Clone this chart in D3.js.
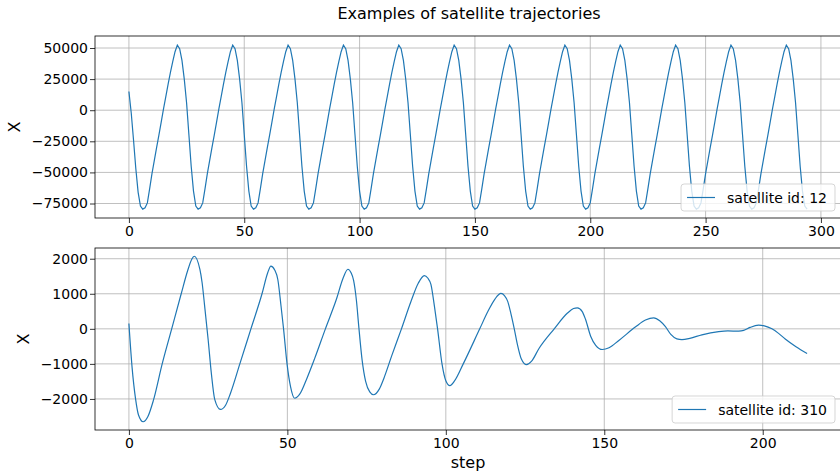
<!DOCTYPE html>
<html>
<head>
<meta charset="utf-8">
<script src="https://cdn.jsdelivr.net/npm/d3@7"></script>
<style>
  body { margin: 0; background: #fff; }
  svg text { font-family: "DejaVu Sans", sans-serif; fill: #000; }
</style>
</head>
<body>
<svg id="chart" width="840" height="475"></svg>
<script>
/* data */
// satellite 12: X value at every step 0..294
var values12 = [
  15000, -2000, -24000, -47000, -66000, -77000, -79500, -78500, -74500, -63000, -51000, -40500, -30000, -20000, -9500, 1000, 11000, 21000, 30500, 39000, 47000,
  52300, 49500, 40000, 25000, 6000, -19500, -45000, -65000, -77000, -79500, -78500, -74500, -63000, -51000, -40500, -30000, -20000, -9500, 1000, 11000, 21000, 30500, 39000, 47000,
  52300, 49500, 40000, 25000, 6000, -19500, -45000, -65000, -77000, -79500, -78500, -74500, -63000, -51000, -40500, -30000, -20000, -9500, 1000, 11000, 21000, 30500, 39000, 47000,
  52300, 49500, 40000, 25000, 6000, -19500, -45000, -65000, -77000, -79500, -78500, -74500, -63000, -51000, -40500, -30000, -20000, -9500, 1000, 11000, 21000, 30500, 39000, 47000,
  52300, 49500, 40000, 25000, 6000, -19500, -45000, -65000, -77000, -79500, -78500, -74500, -63000, -51000, -40500, -30000, -20000, -9500, 1000, 11000, 21000, 30500, 39000, 47000,
  52300, 49500, 40000, 25000, 6000, -19500, -45000, -65000, -77000, -79500, -78500, -74500, -63000, -51000, -40500, -30000, -20000, -9500, 1000, 11000, 21000, 30500, 39000, 47000,
  52300, 49500, 40000, 25000, 6000, -19500, -45000, -65000, -77000, -79500, -78500, -74500, -63000, -51000, -40500, -30000, -20000, -9500, 1000, 11000, 21000, 30500, 39000, 47000,
  52300, 49500, 40000, 25000, 6000, -19500, -45000, -65000, -77000, -79500, -78500, -74500, -63000, -51000, -40500, -30000, -20000, -9500, 1000, 11000, 21000, 30500, 39000, 47000,
  52300, 49500, 40000, 25000, 6000, -19500, -45000, -65000, -77000, -79500, -78500, -74500, -63000, -51000, -40500, -30000, -20000, -9500, 1000, 11000, 21000, 30500, 39000, 47000,
  52300, 49500, 40000, 25000, 6000, -19500, -45000, -65000, -77000, -79500, -78500, -74500, -63000, -51000, -40500, -30000, -20000, -9500, 1000, 11000, 21000, 30500, 39000, 47000,
  52300, 49500, 40000, 25000, 6000, -19500, -45000, -65000, -77000, -79500, -78500, -74500, -63000, -51000, -40500, -30000, -20000, -9500, 1000, 11000, 21000, 30500, 39000, 47000,
  52300, 49500, 40000, 25000, 6000, -19500, -45000, -65000, -77000, -79500, -78500, -74500, -63000, -51000, -40500, -30000, -20000, -9500, 1000, 11000, 21000, 30500, 39000, 47000,
  52300, 49500, 40000, 25000, 6000, -19500, -45000, -65000, -77000, -79500
];

// satellite 310: points picked along the curve (step, X)
var steps310 = [
  0, 1, 2.1, 3, 4.5, 6, 7.7, 10.5, 13.5, 16.5, 18.5, 19.8, 20.6,
  22.4, 23.1, 23.9, 25, 26, 27.1, 28.9,
  30.5, 32, 35, 38.5, 42, 43.8, 44.8,
  46, 47, 48, 48.8, 49.9, 51, 52.3,
  54, 56, 58.6, 62, 65.5, 67.6, 69.1,
  70.1, 70.9, 71.8, 72.5, 73.6, 74.7, 76, 77.2,
  79, 80.5, 83, 86, 89, 91.3, 93.2,
  94.3, 95.3, 96.4, 97.4, 98.8, 100, 101.3,
  102.8, 105.5, 110.7, 113.3, 115.5, 117.4,
  118.5, 119.5, 120.5, 121.6, 122.6, 123.8, 125.5,
  127, 129.4, 134.2, 138.4, 140.3, 141.5,
  143, 144.1, 145.7, 147.3, 149.4,
  151.5, 154.6, 159.9, 163, 165.6,
  167.5, 169.3, 171, 172.9, 174.5,
  177, 180.8, 186.1, 189, 192.4, 194, 196, 198.7, 200.5, 202.9, 205, 207.1, 210.5, 214
];
var values310 = [
  150, -1100, -2000, -2450, -2650, -2500, -2050, -1000, 0, 1000, 1650, 1980, 2070,
  1695, 1314, 648, -305, -1257, -2019, -2300,
  -2180, -1850, -1000, 0, 1000, 1600, 1790,
  1680, 1400, 650, 0, -1000, -1650, -1980,
  -1850, -1450, -850, 0, 850, 1450, 1700,
  1600, 1380, 800, 100, -900, -1500, -1800, -1880,
  -1720, -1400, -750, 0, 780, 1300, 1520,
  1450, 1267, 648, 0, -1000, -1480, -1620,
  -1480, -1000, 0, 500, 850, 1010,
  950, 790, 450, 0, -450, -850, -1020,
  -930, -560, 0, 450, 580, 600,
  500, 267, -210, -470, -590,
  -540, -330, 57, 250, 314,
  230, 60, -160, -286, -305,
  -270, -170, -80, -60, -65, -45, 40, 105, 85, 0, -130, -290, -510, -705
];

var xTicks12 = [0, 50, 100, 150, 200, 250, 300];
var yTicks12 = [-75000, -50000, -25000, 0, 25000, 50000];
var xTicks310 = [0, 50, 100, 150, 200];
var yTicks310 = [-2000, -1000, 0, 1000, 2000];

var svg = d3.select("#chart");
var blue = "#1f77b4";

svg.append("text")
  .attr("x", 469).attr("y", 19)
  .attr("text-anchor", "middle")
  .style("font-size", "16px")
  .text("Examples of satellite trajectories");

var panels = [
  {
    top: 36, bottom: 218, left: 95, right: 841,
    xDomain: [-14.7, 308.7], yDomain: [-86650, 59650],
    xTicks: xTicks12, yTicks: yTicks12,
    pts: values12.map(function (v, i) { return [i, v]; }),
    curve: d3.curveLinear, label: "satellite id: 12", ylabX: 20
  },
  {
    top: 248, bottom: 430, left: 95, right: 841,
    xDomain: [-10.7, 224.7], yDomain: [-2886, 2306],
    xTicks: xTicks310, yTicks: yTicks310,
    pts: steps310.map(function (s, i) { return [s, values310[i]]; }),
    curve: d3.curveMonotoneX, label: "satellite id: 310", ylabX: 29
  }
];

panels.forEach(function (p, k) {
  var x = d3.scaleLinear().domain(p.xDomain).range([p.left, p.right]);
  var y = d3.scaleLinear().domain(p.yDomain).range([p.bottom, p.top]);
  var g = svg.append("g");

  // grid
  g.append("g").selectAll("line").data(p.xTicks).enter().append("line")
    .attr("x1", function (d) { return x(d); }).attr("x2", function (d) { return x(d); })
    .attr("y1", p.top).attr("y2", p.bottom)
    .attr("stroke", "#b0b0b0").attr("stroke-width", 0.8);
  g.append("g").selectAll("line").data(p.yTicks).enter().append("line")
    .attr("y1", function (d) { return y(d); }).attr("y2", function (d) { return y(d); })
    .attr("x1", p.left).attr("x2", p.right)
    .attr("stroke", "#b0b0b0").attr("stroke-width", 0.8);

  // line
  var clipId = "clip" + k;
  svg.append("clipPath").attr("id", clipId).append("rect")
    .attr("x", p.left).attr("y", p.top)
    .attr("width", p.right - p.left).attr("height", p.bottom - p.top);
  g.append("path")
    .datum(p.pts)
    .attr("clip-path", "url(#" + clipId + ")")
    .attr("fill", "none")
    .attr("stroke", blue)
    .attr("stroke-width", 1.2)
    .attr("d", d3.line().x(function (d) { return x(d[0]); }).y(function (d) { return y(d[1]); }).curve(p.curve));

  // axes
  var xa = g.append("g").attr("transform", "translate(0," + p.bottom + ")")
    .call(d3.axisBottom(x).tickValues(p.xTicks).tickFormat(d3.format("d")).tickSize(5).tickPadding(3));
  var ya = g.append("g").attr("transform", "translate(" + p.left + ",0)")
    .call(d3.axisLeft(y).tickValues(p.yTicks).tickFormat(d3.format("d")).tickSize(5).tickPadding(2));
  [xa, ya].forEach(function (a) {
    a.select(".domain").remove();
    a.selectAll("line").attr("stroke", "#000").attr("stroke-width", 0.8);
    a.selectAll("text").style("font-size", "14px").attr("fill", "#000")
      .style("font-family", "'DejaVu Sans', sans-serif");
  });

  // frame
  g.append("rect")
    .attr("x", p.left).attr("y", p.top)
    .attr("width", p.right - p.left).attr("height", p.bottom - p.top)
    .attr("fill", "none").attr("stroke", "#000").attr("stroke-width", 0.8);

  // y label
  g.append("text")
    .attr("transform", "translate(" + p.ylabX + "," + ((p.top + p.bottom) / 2) + ") rotate(-90)")
    .attr("text-anchor", "middle")
    .style("font-size", "16px")
    .text("X");

  // legend
  var lg = g.append("g");
  var box = lg.append("rect");
  var txt = lg.append("text").style("font-size", "14px").text(p.label);
  var tw = txt.node().getComputedTextLength();
  var bw = 46 + tw + 8, bh = 27;
  var bx = 835 - bw, by = p.bottom - 7 - bh;
  box.attr("x", bx).attr("y", by).attr("width", bw).attr("height", bh)
    .attr("rx", 3)
    .attr("fill", "rgba(255,255,255,0.8)")
    .attr("stroke", "rgba(204,204,204,0.8)").attr("stroke-width", 1);
  lg.append("line")
    .attr("x1", bx + 6).attr("x2", bx + 34)
    .attr("y1", by + bh / 2).attr("y2", by + bh / 2)
    .attr("stroke", blue).attr("stroke-width", 1.2);
  txt.attr("x", bx + 46).attr("y", by + bh / 2 + 5);
});

svg.append("text")
  .attr("x", 468).attr("y", 468)
  .attr("text-anchor", "middle")
  .style("font-size", "16px")
  .text("step");
</script>
</body>
</html>
